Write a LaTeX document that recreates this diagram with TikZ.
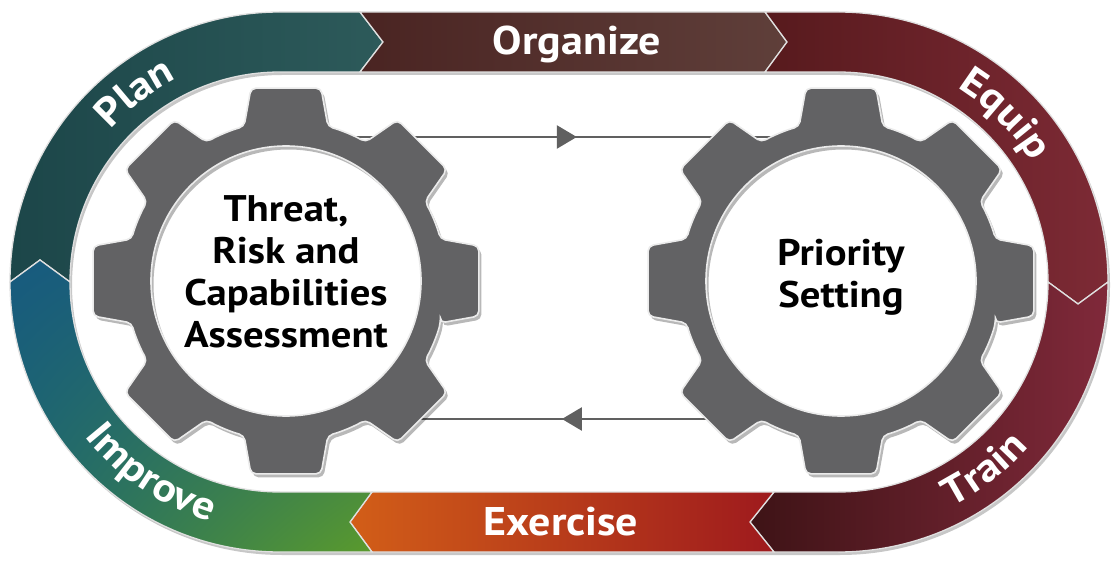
\documentclass[tikz,border=0pt]{standalone}
\usepackage{fontspec}
\setmainfont{PT Sans}[FakeStretch=1.1]
\usetikzlibrary{arrows.meta,decorations.markings,decorations.text,calc,shadings}

\definecolor{planL}{HTML}{1C4649}
\definecolor{planR}{HTML}{2D5A5A}
\definecolor{orgL}{HTML}{4A2422}
\definecolor{orgR}{HTML}{5F3F3A}
\definecolor{eqL}{HTML}{571A1D}
\definecolor{eqR}{HTML}{7D2A35}
\definecolor{trL}{HTML}{3E1316}
\definecolor{trR}{HTML}{80293A}
\definecolor{exL}{HTML}{D25E18}
\definecolor{exR}{HTML}{9E1A1D}
\definecolor{impUL}{HTML}{175A7F}
\definecolor{impUR}{HTML}{1F6670}
\definecolor{impLL}{HTML}{1F6A6A}
\definecolor{impLR}{HTML}{5A9A2C}
\definecolor{gearfill}{HTML}{626264}
\definecolor{connc}{HTML}{606060}

\newcommand\bandfont{\fontsize{40}{44}\selectfont\bfseries}
\newcommand\gearfont{\fontsize{37}{42}\selectfont\bfseries}
\newcommand\gearshape{%
  ({-15.2}:160)
  \foreach \a in {0,45,...,315}{
    -- ({\a-10.3}:196) -- ({\a+10.3}:196) -- ({\a+15.2}:160)
    arc[start angle={\a+15.2}, end angle={\a+29.8}, radius=160]}
  -- cycle
  (0,0) circle[radius=135]}

\begin{document}
\begin{tikzpicture}[x=1pt,y=1pt,
  seg/.style={draw=white!88!black, line width=1.3pt},
  bandlabel/.style={font=\bandfont, text=white, inner sep=0pt, anchor=base},
  arclabel/.style={decorate, decoration={text along path,
      text={|\bandfont|#1}, text align=center, text color=white}},
  geartext/.style={font=\gearfont, align=center, inner sep=0pt, text=black},
  conn/.style={draw=connc, line width=2.6pt},
  gearbody/.style={fill=gearfill, draw=white!92!black, line width=1.6pt,
      even odd rule, rounded corners=5pt},
  gearshadow/.style={fill=black, opacity=0.28, even odd rule, rounded corners=5pt}
]
\useasboundingbox (0,0) rectangle (1113,560);
\fill[white] (0,0) rectangle (1113,560);

\coordinate (L) at (280,278);
\coordinate (R) at (838,278);
\coordinate (lg) at (286,279);
\coordinate (rg) at (841,279);

% shadow of the track
\fill[black, opacity=0.22, even odd rule, shift={(2,-3)}]
  (280,548) -- (838,548) arc[start angle=90,end angle=-90,radius=270]
  -- (280,8) arc[start angle=270,end angle=90,radius=270] -- cycle
  (280,488) -- (838,488) arc[start angle=90,end angle=-90,radius=210]
  -- (280,68) arc[start angle=270,end angle=90,radius=210] -- cycle;

% Plan
\shade[seg, left color=planL, right color=planR]
  (10,278) arc[start angle=180,end angle=90,radius=270] -- (360,548) -- (383,518)
  -- (360,488) -- (280,488) arc[start angle=90,end angle=180,radius=210]
  -- (40,300) -- cycle;
% Organize
\shade[seg, left color=orgL, right color=orgR]
  (360,548) -- (765,548) -- (787,518) -- (765,488) -- (360,488) -- (383,518) -- cycle;
% Equip
\shade[seg, left color=eqL, right color=eqR]
  (765,548) -- (838,548) arc[start angle=90,end angle=0,radius=270]
  -- (1078,256) -- (1048,278) arc[start angle=0,end angle=90,radius=210]
  -- (765,488) -- (787,518) -- cycle;
% Train
\shade[seg, left color=trL, right color=trR]
  (1108,278) arc[start angle=0,end angle=-90,radius=270] -- (774,8) -- (750,38)
  -- (774,68) -- (838,68) arc[start angle=-90,end angle=0,radius=210]
  -- (1078,256) -- cycle;
% Exercise
\shade[seg, left color=exL, right color=exR]
  (774,8) -- (372,8) -- (350,38) -- (372,68) -- (774,68) -- (750,38) -- cycle;
% Improve
\shade[seg, upper left=impUL, upper right=impUR, lower left=impLL, lower right=impLR]
  (372,8) -- (280,8) arc[start angle=270,end angle=180,radius=270]
  -- (40,300) -- (70,278) arc[start angle=180,end angle=270,radius=210]
  -- (372,68) -- (350,38) -- cycle;

% labels on the track
\node[bandlabel] (org) at (577,505) {Organize};
\node[bandlabel] (exe) at (561,25) {Exercise};
\path[arclabel=Plan] ($(L)+(155:228)$) arc[start angle=155,end angle=100,radius=228];
\path[arclabel=Equip] ($(R)+(75:228)$) arc[start angle=75,end angle=15,radius=228];
\path[arclabel=Train] ($(R)+(-85:252)$) arc[start angle=-85,end angle=-19,radius=252];
\path[arclabel=Improve] ($(L)+(196:249)$) arc[start angle=196,end angle=276,radius=249];

% connectors (under the gears)
\coordinate (lgT) at ($(lg)+(40,144)$);
\coordinate (rgT) at ($(rg)+(-40,144)$);
\coordinate (lgB) at ($(lg)+(120,-138)$);
\coordinate (rgB) at ($(rg)+(-120,-138)$);
\draw[conn, postaction={decorate}, decoration={markings,
   mark=at position 0.528 with {\arrow[connc]{Triangle[length=20pt,width=23pt]}}}]
   (lgT) -- (rgT);
\draw[conn, postaction={decorate}, decoration={markings,
   mark=at position 0.505 with {\arrow[connc]{Triangle[length=20pt,width=23pt]}}}]
   (rgB) -- (lgB);

% gears
\begin{scope}[shift={(lg)}]
  \fill[gearshadow, shift={(2.5,-3.5)}] \gearshape;
  \path[gearbody] \gearshape;
\end{scope}
\begin{scope}[shift={(rg)}]
  \fill[gearshadow, shift={(2.5,-3.5)}] \gearshape;
  \path[gearbody] \gearshape;
\end{scope}

\node[geartext] (tra) at (286,288) {Threat,\\Risk and\\Capabilities\\Assessment};
\node[geartext] (ps) at (841,283) {Priority\\Setting};
\end{tikzpicture}
\end{document}
